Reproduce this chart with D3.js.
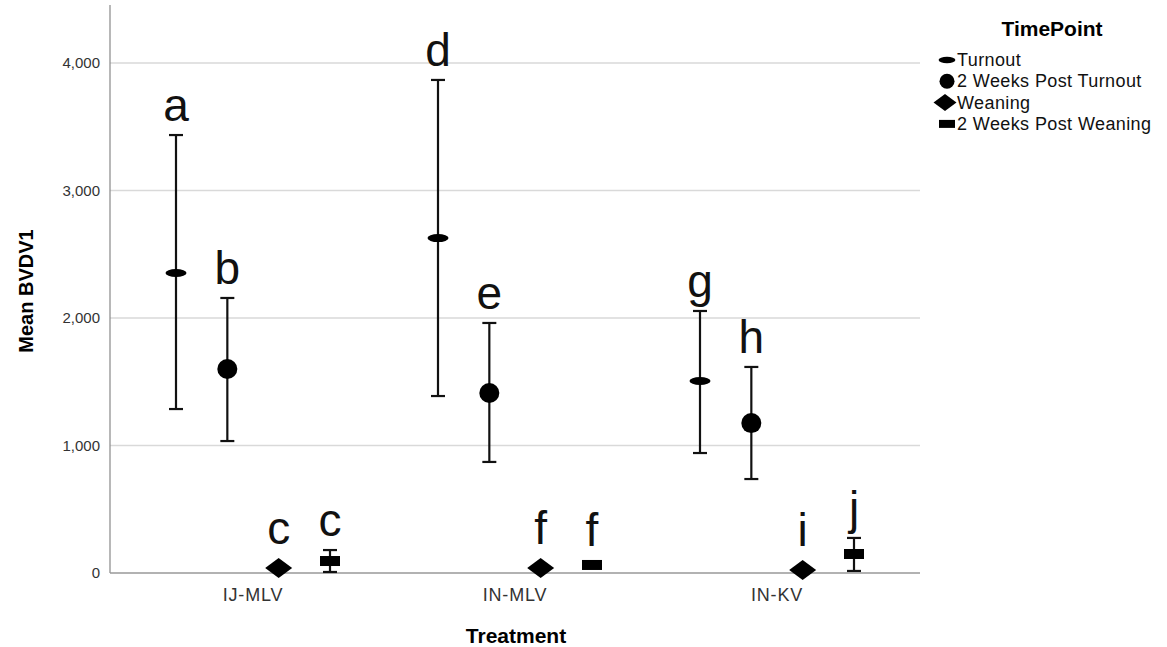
<!DOCTYPE html>
<html>
<head>
<meta charset="utf-8">
<script src="https://cdn.jsdelivr.net/npm/d3@7"></script>
<style>
  body { margin: 0; background: #fff; }
  svg { display: block; }
  text { font-family: "Liberation Sans", Arial, sans-serif; }
</style>
</head>
<body>
<svg id="chart" width="1167" height="647"></svg>
<script>
const treatments = ["IJ-MLV", "IN-MLV", "IN-KV"];
const timePoints = ["Turnout", "2 Weeks Post Turnout", "Weaning", "2 Weeks Post Weaning"];
const yTicks = [0, 1000, 2000, 3000, 4000];

// mean, lower and upper of the error bar, per treatment, in timePoints order
const means = [
  [2353, 1600, 40, 94],
  [2627, 1412, 40, 63],
  [1506, 1176, 24, 149]
];
const lowers = [
  [1286, 1035, 40, 8],
  [1388, 871, 40, 45],
  [941, 737, 24, 16]
];
const uppers = [
  [3435, 2157, 40, 180],
  [3867, 1961, 40, 82],
  [2055, 1616, 24, 275]
];
const letters = [
  ["a", "b", "c", "c"],
  ["d", "e", "f", "f"],
  ["g", "h", "i", "j"]
];

const svg = d3.select("#chart");
const left = 110, right = 920, base = 573;

const x = d3.scaleBand()
  .domain(treatments)
  .range([122, 908]);

const xInner = d3.scalePoint()
  .domain(timePoints)
  .range([-77, 77]);

const y = d3.scaleLinear()
  .domain([0, 4000])
  .range([base, 63]);

// gridlines
svg.append("g")
  .selectAll("line")
  .data(yTicks.slice(1))
  .join("line")
  .attr("x1", left)
  .attr("x2", right)
  .attr("y1", d => y(d))
  .attr("y2", d => y(d))
  .attr("stroke", "#d9d9d9")
  .attr("stroke-width", 1.5);

// y axis
const yAxis = svg.append("g")
  .attr("transform", `translate(${left},0)`)
  .call(d3.axisLeft(y).tickValues(yTicks).tickFormat(d3.format(",")).tickSize(0).tickPadding(10));
yAxis.select(".domain").remove();
yAxis.selectAll("text").attr("font-size", 15).attr("fill", "#333")
  .attr("font-family", "'Liberation Sans', Arial, sans-serif");
svg.append("line")
  .attr("x1", left).attr("x2", left)
  .attr("y1", 5).attr("y2", base)
  .attr("stroke", "#888").attr("stroke-width", 1.2);

// x axis
const xAxis = svg.append("g")
  .attr("transform", `translate(0,${base})`)
  .call(d3.axisBottom(x).tickSize(0).tickPadding(15));
xAxis.select(".domain").remove();
xAxis.selectAll("text").attr("font-size", 18).attr("fill", "#333")
  .attr("letter-spacing", 0.8)
  .attr("font-family", "'Liberation Sans', Arial, sans-serif");
svg.append("line")
  .attr("x1", left).attr("x2", right)
  .attr("y1", base).attr("y2", base)
  .attr("stroke", "#999").attr("stroke-width", 1.5);

// axis titles
svg.append("text")
  .attr("x", 516).attr("y", 643)
  .attr("text-anchor", "middle")
  .attr("font-size", 21).attr("font-weight", "bold")
  .text("Treatment");
svg.append("text")
  .attr("transform", "translate(33,291) rotate(-90)")
  .attr("text-anchor", "middle")
  .attr("font-size", 20).attr("font-weight", "bold")
  .text("Mean BVDV1");

// marker shapes
function drawMarker(g, tp, s) {
  if (tp === 0) {
    g.append("ellipse").attr("rx", 10.5 * s).attr("ry", 4 * s);
  } else if (tp === 1) {
    g.append("circle").attr("r", 10 * s);
  } else if (tp === 2) {
    g.append("path").attr("d", `M${-13.5 * s},0L0,${-10 * s}L${13.5 * s},0L0,${10 * s}Z`);
  } else {
    g.append("rect").attr("x", -10 * s).attr("y", -5 * s).attr("width", 20 * s).attr("height", 10 * s);
  }
}
const markerHalf = [4, 10, 10, 5];

const points = [];
treatments.forEach((t, i) => {
  timePoints.forEach((tp, j) => {
    points.push({t, tp, i, j, mean: means[i][j], lo: lowers[i][j], hi: uppers[i][j], letter: letters[i][j]});
  });
});

const pg = svg.append("g").selectAll("g.pt")
  .data(points)
  .join("g")
  .attr("class", "pt")
  .attr("transform", d => `translate(${x(d.t) + x.bandwidth() / 2 + xInner(d.tp)},0)`);

pg.filter(d => d.hi > d.lo).each(function(d) {
  const g = d3.select(this);
  g.append("line").attr("x1", 0).attr("x2", 0)
    .attr("y1", y(d.lo)).attr("y2", y(d.hi))
    .attr("stroke", "#111").attr("stroke-width", 2.2);
  [d.lo, d.hi].forEach(v => {
    g.append("line").attr("x1", -7).attr("x2", 7)
      .attr("y1", y(v)).attr("y2", y(v))
      .attr("stroke", "#111").attr("stroke-width", 2.2);
  });
});

pg.each(function(d) {
  const m = d3.select(this).append("g")
    .attr("transform", `translate(0,${y(d.mean)})`)
    .attr("fill", "#000");
  drawMarker(m, d.j, 1);
});

pg.append("text")
  .attr("text-anchor", "middle")
  .attr("y", d => Math.min(y(d.hi), y(d.mean) - markerHalf[d.j]) - 14)
  .attr("font-family", "'Open Sans', sans-serif")
  .attr("font-size", 46)
  .attr("fill", "#111")
  .text(d => d.letter);

// legend
const legend = svg.append("g");
legend.append("text")
  .attr("x", 1052).attr("y", 36)
  .attr("text-anchor", "middle")
  .attr("font-size", 21).attr("font-weight", "bold")
  .text("TimePoint");
const li = legend.selectAll("g.item")
  .data(timePoints)
  .join("g")
  .attr("class", "item")
  .attr("transform", (d, k) => `translate(0,${60 + k * 21.3})`);
li.each(function(d, k) {
  const m = d3.select(this).append("g")
    .attr("transform", `translate(${k === 2 ? 945 : 947},0)`)
    .attr("fill", "#000");
  drawMarker(m, k, k === 1 ? 0.75 : k === 2 ? 0.85 : 0.8);
});
li.append("text")
  .attr("x", 957)
  .attr("y", 6)
  .attr("font-size", 18)
  .attr("letter-spacing", 0.4)
  .attr("fill", "#111")
  .text(d => d);
</script>
</body>
</html>
